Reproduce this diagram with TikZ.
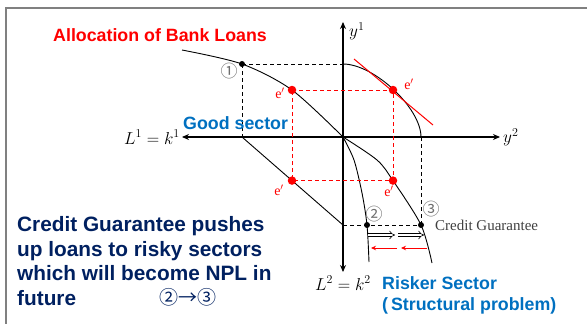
\documentclass[tikz,border=0pt]{standalone}
\usepackage{fontspec}
\setmainfont{Liberation Sans}
\newfontfamily\serifrm{Liberation Serif}
\newfontfamily\cjkfont{Noto Sans CJK JP}
\usetikzlibrary{arrows.meta}

\definecolor{navy}{RGB}{0,32,96}
\definecolor{secblue}{RGB}{0,112,192}
\definecolor{numgray}{RGB}{110,110,110}

\begin{document}
\begin{tikzpicture}[x=1pt,y=-1pt,
  axis/.style={line width=1.4pt,{Stealth[length=7pt,width=6pt]}-{Stealth[length=7pt,width=6pt]}},
  curve/.style={line width=0.9pt},
  guide/.style={line width=0.9pt,dash pattern=on 4pt off 3pt},
  blackdot/.style={circle,fill=black,inner sep=0pt,minimum size=6pt},
  reddot/.style={circle,fill=red,inner sep=0pt,minimum size=8.5pt},
  eprime/.style={text=red,font=\serifrm\fontsize{14}{14}\selectfont,inner sep=0pt},
  circnum/.style={text=numgray,font=\cjkfont\fontsize{17}{17}\selectfont,inner sep=0pt},
  hollow/.style={double,double distance=2.4pt,line width=0.6pt,-{Implies}},
  shiftarr/.style={red,line width=1pt,-{Stealth[length=5pt,width=4.5pt]}},
  mathlbl/.style={font=\fontsize{17}{17}\selectfont,inner sep=1pt}]

  \useasboundingbox (0,0) rectangle (587,324);

  % Frame
  \draw[gray,line width=1.2pt] (587,8) -- (6,8) -- (6,324);

  % Key points
  \coordinate (O) at (343,137);
  \coordinate (xl) at (182,137);
  \coordinate (xr) at (500,137);
  \coordinate (yt) at (343,22);
  \coordinate (yb) at (343,272);
  \coordinate (tl) at (182,50);
  \coordinate (p1) at (242,64);
  \coordinate (p1x) at (242,137);
  \coordinate (gtop) at (343,64);
  \coordinate (gx) at (421,137);
  \coordinate (ea) at (292,90);
  \coordinate (eb) at (393,90);
  \coordinate (ec) at (292,180.6);
  \coordinate (ed) at (393,180.6);
  \coordinate (kb) at (343,225);
  \coordinate (p2) at (367,225);
  \coordinate (p3) at (421,225);
  \coordinate (ib) at (369,262);
  \coordinate (ob) at (432,263);

  % Axes
  \draw[axis] (xl) -- (xr);
  \draw[axis] (yb) -- (yt);

  % Curves
  \draw[curve] plot[smooth] coordinates {(tl) (p1) (ea) (O)};
  \draw[curve] (gtop) .. controls (374,64) and (421,108) .. (gx);
  \draw[curve] plot[smooth] coordinates {(O) (377,160) (ed) (p3) (ob)};
  \draw[curve] plot[smooth] coordinates {(O) (354,160) (362,193) (p2) (ib)};
  \draw[curve] (p1x) -- (kb);

  % Tangent at e'
  \draw[red,line width=1pt] ([shift={(-39,-31)}]eb) -- ([shift={(40,35)}]eb);

  % Dashed guides
  \draw[guide] (p1) -- (gtop);
  \draw[guide] (p1) -- (p1x);
  \draw[guide] (kb) -- (p3);
  \draw[guide] (gx) -- (p3);
  \draw[guide,red] (ea) -- (eb) -- (ed) -- (ec) -- cycle;

  % Shift arrows
  \coordinate (ha1) at (368,235);
  \coordinate (ha2) at (395,235);
  \coordinate (ha3) at (398,235);
  \coordinate (ha4) at (424,235);
  \draw[hollow] (ha1) -- (ha2);
  \draw[hollow] (ha3) -- (ha4);
  \coordinate (ra1) at (397,248);
  \coordinate (ra2) at (371,248);
  \coordinate (ra3) at (427,248);
  \coordinate (ra4) at (401,248);
  \draw[shiftarr] (ra1) -- (ra2);
  \draw[shiftarr] (ra3) -- (ra4);

  % Dots
  \node[blackdot] (d1) at (p1) {};
  \node[blackdot] (d2) at (p2) {};
  \node[blackdot] (d3) at (p3) {};
  \node[reddot] (ra) at (ea) {};
  \node[reddot] (rb) at (eb) {};
  \node[reddot] (rc) at (ec) {};
  \node[reddot] (rd) at (ed) {};

  % Point labels
  \node[eprime] (la) at (280,93) {e$'$};
  \node[eprime] (lb) at (409,84) {e$'$};
  \node[eprime] (lc) at (279,190) {e$'$};
  \node[eprime] (ld) at (389,191) {e$'$};
  \node[circnum] (n1) at (229,71) {①};
  \node[circnum] (n2) at (374,214) {②};
  \node[circnum] (n3) at (431,209) {③};

  % Axis labels
  \node[mathlbl,anchor=west] (ly1) at (348,31) {$y^1$};
  \node[mathlbl,anchor=west] (ly2) at (502,137) {$y^2$};
  \node[mathlbl,anchor=east] (lx1) at (181,137) {$L^1=k^1$};
  \node[mathlbl,anchor=north] (lx2) at (343,275) {$L^2=k^2$};

  % Texts
  \node[anchor=west,inner sep=0pt,text=red,font=\bfseries\fontsize{17.8}{20}\selectfont] (title) at (53,35) {Allocation of Bank Loans};
  \node[anchor=west,inner sep=0pt,text=secblue,font=\bfseries\fontsize{17.8}{20}\selectfont] (good) at (183,123) {Good sector};
  \node[anchor=west,inner sep=0pt,text=black!75,font=\serifrm\fontsize{15}{15}\selectfont] (cg) at (435,225) {Credit Guarantee};
  \node[anchor=west,inner sep=0pt,align=left,text=secblue,font=\bfseries\fontsize{17.8}{21}\selectfont] (risk) at (382,295) {Risker Sector\\(\hspace{3pt}Structural problem)};
  \node[anchor=west,inner sep=0pt,align=left,text=navy,font=\bfseries\fontsize{20.8}{24.5}\selectfont] (note) at (17,261) {Credit Guarantee pushes\\up loans to risky sectors\\which will become NPL in\\future};
  \node[anchor=west,inner sep=0pt,text=navy,font=\cjkfont\fontsize{19}{19}\selectfont] (steps) at (159,297) {②→③};
\end{tikzpicture}
\end{document}
